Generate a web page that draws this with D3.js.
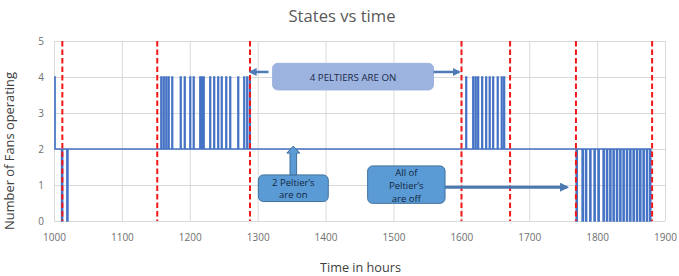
<!DOCTYPE html>
<html>
<head>
<meta charset="utf-8">
<script src="https://cdn.jsdelivr.net/npm/d3@7"></script>
<style>
  body { margin: 0; background: #fff; }
  svg { display: block; font-family: "Open Sans", sans-serif; }
</style>
</head>
<body>
<div class="chart"></div>
<script>
// axis ticks
const xTicks = [1000, 1100, 1200, 1300, 1400, 1500, 1600, 1700, 1800, 1900];
const yTicks = [0, 1, 2, 3, 4, 5];

// start of the run: 4 fans, then settles at 2
const startState = [[1000, 4], [1001.5, 4], [1001.5, 2]];
const baseFans = 2;
const endTime = 1880;

// short bursts to 4 fans (hours)
const upTimes = [1157.6, 1161.3, 1165, 1168.6, 1173.8, 1186.3, 1192.2, 1200.3, 1205.4, 1215,
  1217.2, 1220.2, 1229.7, 1235.6, 1241.5, 1246.7, 1253.3, 1259.2, 1271, 1279.8, 1284.2, 1288.2,
  1606.8, 1617.1, 1620.8, 1624.4, 1630.3, 1636.2, 1641.4, 1646.5, 1653.2, 1659.1, 1662.7];

// short drops to 0 fans (hours)
const downTimes = [1011.3, 1019.1,
  1769.3, 1778.1, 1783.1, 1789.4, 1795.7, 1801.6, 1809, 1814, 1818.9, 1823.7, 1828.7,
  1833.6, 1838.4, 1843.4, 1848.3, 1853.2, 1858.2, 1863, 1867.9, 1872.9, 1877.7];
const upHours = 0.8;
const downHours = 1.3;

// red dashed phase markers
const markerTimes = [1012.3, 1152.1, 1288.7, 1600.2, 1671.8, 1768.8, 1881];

const w = 679;
const h = 276;

const x = d3.scaleLinear().domain([1000, 1900]).range([54, 665]);
const y = d3.scaleLinear().domain([0, 5]).range([221, 41]);

// step series built from the events above
const events = upTimes.map(t => ({ t: t, v: 4, d: upHours }))
  .concat(downTimes.map(t => ({ t: t, v: 0, d: downHours })))
  .sort((a, b) => a.t - b.t);
const series = startState.slice();
events.forEach(e => {
  series.push([e.t, baseFans], [e.t, e.v], [e.t + e.d, e.v], [e.t + e.d, baseFans]);
});
series.push([endTime, baseFans]);

const svg = d3.select('.chart')
  .append('svg')
  .attr('width', w)
  .attr('height', h);

// scale a text's font size so it spans the width seen in the picture
function fit(sel, width) {
  const cur = sel.node().getComputedTextLength();
  const fs = parseFloat(sel.attr('font-size'));
  sel.attr('font-size', (fs * width / cur).toFixed(2));
}

const xAxis = d3.axisBottom(x).tickValues(xTicks).tickSize(-(y(0) - y(5))).tickPadding(13).tickFormat(d3.format('d'));
const yAxis = d3.axisLeft(y).tickValues(yTicks).tickSize(-(x(1900) - x(1000))).tickPadding(10).tickFormat(d3.format('d'));

const gx = svg.append('g')
  .attr('transform', 'translate(0,' + y(0) + ')')
  .call(xAxis);
const gy = svg.append('g')
  .attr('transform', 'translate(' + x(1000) + ',0)')
  .call(yAxis);

[gx, gy].forEach(g => {
  g.select('.domain').remove();
  g.selectAll('line').attr('stroke', '#d9d9d9').attr('stroke-width', 1);
  g.selectAll('text').attr('fill', '#6e6e6e').style('font-size', '10px').style('font-family', '"Open Sans", sans-serif');
});

// fans line
svg.append('path')
  .datum(series)
  .attr('fill', 'none')
  .attr('stroke', '#4472c4')
  .attr('stroke-width', 1.7)
  .attr('d', d3.line().x(d => x(d[0])).y(d => y(d[1])));

// dashed markers
svg.selectAll('.marker')
  .data(markerTimes)
  .enter()
  .append('line')
  .attr('class', 'marker')
  .attr('x1', d => x(d)).attr('x2', d => x(d))
  .attr('y1', y(5)).attr('y2', y(0))
  .attr('stroke', '#f01818')
  .attr('stroke-width', 2)
  .attr('stroke-dasharray', '5.5,3');

// titles
const title = svg.append('text')
  .attr('x', 342).attr('y', 21.5)
  .attr('text-anchor', 'middle')
  .attr('font-size', 16)
  .attr('fill', '#595959')
  .text('States vs time');
fit(title, 107);

const xTitle = svg.append('text')
  .attr('x', 360.5).attr('y', 272)
  .attr('text-anchor', 'middle')
  .attr('font-size', 13)
  .attr('fill', '#404040')
  .text('Time in hours');
fit(xTitle, 81);

const yTitle = svg.append('text')
  .attr('transform', 'translate(14,151) rotate(-90)')
  .attr('text-anchor', 'middle')
  .attr('font-size', 13)
  .attr('fill', '#404040')
  .text('Number of Fans operating');
fit(yTitle, 158);

// annotations
const defs = svg.append('defs');
function arrowHead(id, color, size) {
  defs.append('marker')
    .attr('id', id)
    .attr('viewBox', '0 0 10 10')
    .attr('refX', 8).attr('refY', 5)
    .attr('markerWidth', size).attr('markerHeight', size)
    .attr('markerUnits', 'userSpaceOnUse')
    .attr('orient', 'auto')
    .append('path')
    .attr('d', 'M0,0 L10,5 L0,10 Z')
    .attr('fill', color);
}
arrowHead('headA', '#4f7cb6', 8);
arrowHead('headB', '#4a79b2', 9);

function arrow(t1, v1, t2, v2, id, color, width) {
  svg.append('line')
    .attr('x1', x(t1)).attr('y1', y(v1))
    .attr('x2', x(t2)).attr('y2', y(v2))
    .attr('stroke', color)
    .attr('stroke-width', width)
    .attr('marker-end', 'url(#' + id + ')');
}

function box(t1, t2, v1, v2, fill, stroke) {
  svg.append('rect')
    .attr('x', x(t1)).attr('y', y(v2))
    .attr('width', x(t2) - x(t1)).attr('height', y(v1) - y(v2))
    .attr('rx', 5)
    .attr('fill', fill)
    .attr('stroke', stroke)
    .attr('stroke-width', 1);
}

function lines(tc, ys, texts, size) {
  texts.forEach((s, i) => {
    svg.append('text')
      .attr('x', x(tc)).attr('y', ys[i])
      .attr('text-anchor', 'middle')
      .attr('dominant-baseline', 'central')
      .attr('font-size', size)
      .attr('fill', '#10263f')
      .text(s);
  });
}

// 4 Peltiers
box(1322, 1559, 3.64, 4.38, '#9db3df', '#9db3df');
arrow(1316, 4.14, 1289, 4.14, 'headA', '#4f7cb6', 2.5);
arrow(1559, 4.14, 1597, 4.14, 'headA', '#4f7cb6', 2.5);
const noteOn = svg.append('text')
  .attr('x', x(1440.5)).attr('y', 77)
  .attr('text-anchor', 'middle')
  .attr('dominant-baseline', 'central')
  .attr('font-size', 9)
  .attr('fill', '#1a2a48')
  .text('4 PELTIERS ARE ON');
fit(noteOn, 86.7);

// 2 Peltiers
box(1301, 1404, 0.54, 1.28, '#5b9bd5', '#41719c');
const ax = x(1352.5), tipY = y(2.08), baseY = y(1.28);
svg.append('path')
  .attr('d', 'M' + (ax - 3.3) + ',' + baseY + ' L' + (ax - 3.3) + ',' + (tipY + 7) +
    ' L' + (ax - 6.5) + ',' + (tipY + 7) + ' L' + ax + ',' + tipY + ' L' + (ax + 6.5) + ',' + (tipY + 7) +
    ' L' + (ax + 3.3) + ',' + (tipY + 7) + ' L' + (ax + 3.3) + ',' + baseY + ' Z')
  .attr('fill', '#5b9bd5')
  .attr('stroke', '#41719c')
  .attr('stroke-width', 1);
lines(1352.5, [182, 194.5], ["2 Peltier’s", 'are on'], 9.5);

// all off
box(1462, 1576, 0.49, 1.53, '#5b9bd5', '#41719c');
arrow(1576, 0.94, 1756, 0.94, 'headB', '#4a79b2', 3);
lines(1519, [172.7, 185.5, 198.3], ['All of', "Peltier’s", 'are off'], 9.5);
</script>
</body>
</html>
